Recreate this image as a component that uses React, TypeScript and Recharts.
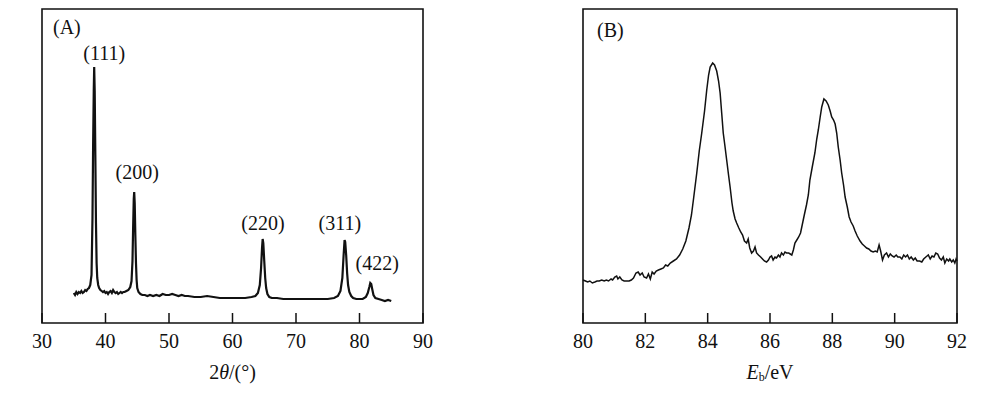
import React from 'react';
import { LineChart, Line, XAxis, YAxis, ReferenceArea, ReferenceDot, Label } from 'recharts';

// (A) XRD pattern
const xrdTwoTheta = [
  35.0, 35.2, 35.4, 35.6, 35.8, 36.0, 36.2, 36.4, 36.6, 36.8,
  37.0, 37.2, 37.4, 37.6, 37.8, 37.95, 38.05, 38.15, 38.22, 38.3,
  38.4, 38.5, 38.6, 38.7, 38.85, 39.0, 39.2, 39.4, 39.6, 39.8,
  40.0, 40.2, 40.4, 40.6, 40.8, 41.0, 41.2, 41.4, 41.6, 41.8,
  42.0, 42.2, 42.4, 42.6, 42.8, 43.0, 43.3, 43.6, 43.9, 44.1,
  44.25, 44.35, 44.45, 44.52, 44.6, 44.7, 44.8, 44.9, 45.0, 45.2,
  45.5, 45.8, 46.2, 46.6, 47.0, 47.5, 48.0, 48.5, 49.0, 49.5,
  50.0, 50.5, 51.0, 51.5, 52.0, 52.5, 53.0, 54.0, 55.0, 56.0,
  57.0, 58.0, 59.0, 60.0, 61.0, 62.0, 63.0, 63.6, 64.0, 64.3,
  64.5, 64.65, 64.75, 64.85, 65.0, 65.15, 65.3, 65.5, 65.8, 66.2,
  67.0, 68.0, 69.0, 70.0, 71.0, 72.0, 73.0, 74.0, 75.0, 76.0,
  76.6, 77.0, 77.3, 77.5, 77.65, 77.75, 77.9, 78.05, 78.2, 78.4,
  78.7, 79.0, 79.5, 80.0, 80.5, 81.0, 81.3, 81.55, 81.7, 81.85,
  82.0, 82.2, 82.5, 83.0, 83.5, 84.0, 84.5, 85.0,
];
const xrdIntensity = [
  30, 28, 31, 29, 31, 30, 32, 30, 31, 33,
  32, 34, 35, 38, 48, 105, 178, 232, 256, 232,
  168, 100, 60, 45, 38, 35, 33, 32, 31, 32,
  30, 31, 29, 31, 32, 30, 33, 31, 30, 31,
  29, 30, 31, 30, 31, 31, 32, 33, 36, 42,
  62, 95, 124, 131, 120, 88, 60, 43, 35, 31,
  29, 28, 28, 27, 28, 27, 28, 27, 29, 28,
  28, 29, 28, 27, 28, 27, 27, 26, 26, 27,
  26, 25, 25, 25, 25, 25, 26, 27, 30, 38,
  55, 75, 84, 80, 62, 45, 35, 29, 26, 25,
  25, 24, 24, 24, 24, 24, 24, 24, 24, 25,
  27, 32, 45, 68, 83, 81, 68, 50, 38, 31,
  27, 25, 24, 24, 24, 26, 30, 36, 40, 39,
  34, 28, 25, 24, 23, 22, 23, 22,
];
const xrdTicks = [30, 40, 50, 60, 70, 80, 90];
const xrdPeakNames = ['(111)', '(200)', '(220)', '(311)', '(422)'];
const xrdPeakLabelX = [39.8, 45.0, 64.8, 76.9, 82.8];
const xrdPeakLabelY = [270, 151, 100, 100, 60];

// (B) XPS spectrum
const xpsEnergy = [
  80.00, 80.08, 80.15, 80.22, 80.30, 80.38, 80.45, 80.52, 80.60, 80.68,
  80.75, 80.82, 80.90, 80.95, 81.02, 81.08, 81.12, 81.18, 81.25, 81.32,
  81.40, 81.48, 81.55, 81.62, 81.70, 81.77, 81.83, 81.90, 81.96, 82.04,
  82.10, 82.16, 82.22, 82.28, 82.35, 82.42, 82.50, 82.58, 82.65, 82.72,
  82.80, 82.90, 83.00, 83.10, 83.20, 83.30, 83.40, 83.48, 83.55, 83.65,
  83.73, 83.81, 83.90, 83.97, 84.03, 84.08, 84.16, 84.22, 84.29, 84.35,
  84.40, 84.45, 84.50, 84.55, 84.61, 84.67, 84.72, 84.78, 84.82, 84.88,
  84.93, 85.00, 85.06, 85.12, 85.18, 85.25, 85.30, 85.35, 85.41, 85.47,
  85.52, 85.57, 85.63, 85.70, 85.76, 85.82, 85.89, 85.95, 86.00, 86.05,
  86.10, 86.16, 86.21, 86.27, 86.32, 86.37, 86.43, 86.48, 86.53, 86.60,
  86.65, 86.70, 86.75, 86.80, 86.86, 86.92, 86.98, 87.04, 87.10, 87.17,
  87.23, 87.28, 87.35, 87.44, 87.50, 87.55, 87.61, 87.66, 87.73, 87.80,
  87.87, 87.93, 87.98, 88.04, 88.09, 88.14, 88.19, 88.25, 88.30, 88.36,
  88.41, 88.48, 88.54, 88.60, 88.67, 88.73, 88.80, 88.89, 88.96, 89.03,
  89.10, 89.17, 89.24, 89.31, 89.38, 89.44, 89.50, 89.55, 89.61, 89.67,
  89.74, 89.80, 89.86, 89.92, 89.98, 90.05, 90.10, 90.17, 90.23, 90.29,
  90.35, 90.41, 90.47, 90.53, 90.60, 90.66, 90.72, 90.80, 90.87, 90.93,
  91.00, 91.08, 91.14, 91.20, 91.26, 91.32, 91.38, 91.44, 91.50, 91.56,
  91.61, 91.67, 91.73, 91.77, 91.83, 91.88, 91.93, 91.97, 92.00,
];
const xpsIntensity = [
  43, 42, 41, 42, 40, 41, 42, 42, 43, 42,
  43, 42, 44, 43, 46, 47, 44, 46, 43, 42,
  42, 42, 43, 45, 50, 51, 48, 50, 46, 45,
  49, 44, 51, 49, 52, 53, 54, 55, 58, 57,
  60, 62, 64, 68, 74, 82, 95, 108, 125, 150,
  172, 190, 212, 233, 248, 256, 260, 258, 252, 242,
  230, 210, 190, 178, 163, 148, 136, 120, 112, 104,
  100, 95, 91, 88, 82, 80, 84, 75, 70, 72,
  76, 70, 68, 66, 64, 62, 61, 63, 66, 67,
  63, 66, 65, 68, 66, 70, 68, 71, 70, 70,
  69, 68, 73, 80, 83, 86, 90, 99, 108, 118,
  128, 143, 155, 170, 184, 193, 206, 216, 224, 222,
  218, 212, 206, 203, 199, 190, 176, 163, 150, 138,
  126, 116, 106, 101, 97, 92, 87, 82, 79, 77,
  75, 74, 72, 71, 72, 71, 78, 72, 63, 68,
  70, 66, 69, 67, 66, 68, 66, 66, 64, 68,
  66, 68, 64, 66, 63, 65, 62, 62, 61, 64,
  66, 68, 64, 67, 66, 70, 69, 65, 63, 66,
  60, 64, 62, 64, 61, 63, 60, 64, 62,
];
const xpsTicks = [80, 82, 84, 86, 88, 90, 92];

const xrdData = xrdTwoTheta.map((x, i) => ({ x, y: xrdIntensity[i] }));
const xpsData = xpsEnergy.map((x, i) => ({ x, y: xpsIntensity[i] }));

const FONT = "'Liberation Serif', 'Times New Roman', serif";
const INK = '#111';

const xrdTitle = (props: any) => {
  const { x, y, width } = props.viewBox;
  return (
    <text x={x + width / 2} y={y + 56} textAnchor="middle" fontSize={20} fill={INK} fontFamily={FONT}>
      2<tspan fontStyle="italic">θ</tspan>/(°)
    </text>
  );
};

const xpsTitle = (props: any) => {
  const { x, y, width } = props.viewBox;
  return (
    <text x={x + width / 2} y={y + 56} textAnchor="middle" fontSize={20} fill={INK} fontFamily={FONT}>
      <tspan fontStyle="italic">E</tspan>
      <tspan fontSize={12} dy={2}>b</tspan>
      <tspan dy={-2}>/eV</tspan>
    </text>
  );
};

const tickStyle = { fill: INK, fontSize: 20, fontFamily: FONT };

export default function App() {
  return (
    <div style={{ position: 'absolute', left: 0, top: 0, width: 1000, height: 395, fontFamily: FONT, background: '#fff' }}>
      <div style={{ position: 'absolute', left: 0, top: 0 }}>
        <LineChart width={500} height={395} data={xrdData} margin={{ top: 9, left: 42, right: 77, bottom: 0 }}>
          <XAxis
            dataKey="x"
            type="number"
            domain={[30, 90]}
            ticks={xrdTicks}
            height={72}
            axisLine={false}
            tickSize={-10}
            tickMargin={21}
            tickLine={{ stroke: INK, strokeWidth: 1.5 }}
            tick={tickStyle}
          >
            <Label content={xrdTitle} />
          </XAxis>
          <YAxis hide type="number" domain={[0, 314]} />
          <ReferenceArea x1={30} x2={90} y1={0} y2={314} fill="none" stroke={INK} strokeWidth={1.6} fillOpacity={0}>
            <Label value="(A)" position="insideTopLeft" offset={11} fontSize={20} fill={INK} fontFamily={FONT} />
          </ReferenceArea>
          <Line type="linear" dataKey="y" stroke={INK} strokeWidth={2.2} dot={false} isAnimationActive={false} />
          {xrdPeakNames.map((name, i) => (
            <ReferenceDot key={name} x={xrdPeakLabelX[i]} y={xrdPeakLabelY[i]} r={0} fill="none" stroke="none">
              <Label value={name} position="center" fontSize={20} fill={INK} fontFamily={FONT} />
            </ReferenceDot>
          ))}
        </LineChart>
      </div>
      <div style={{ position: 'absolute', left: 500, top: 0 }}>
        <LineChart width={500} height={395} data={xpsData} margin={{ top: 9, left: 83, right: 43, bottom: 0 }}>
          <XAxis
            dataKey="x"
            type="number"
            domain={[80, 92]}
            ticks={xpsTicks}
            height={72}
            axisLine={false}
            tickSize={-10}
            tickMargin={21}
            tickLine={{ stroke: INK, strokeWidth: 1.5 }}
            tick={tickStyle}
          >
            <Label content={xpsTitle} />
          </XAxis>
          <YAxis hide type="number" domain={[0, 314]} />
          <ReferenceArea x1={80} x2={92} y1={0} y2={314} fill="none" stroke={INK} strokeWidth={1.6} fillOpacity={0}>
            <Label value="(B)" position="insideTopLeft" offset={14} fontSize={20} fill={INK} fontFamily={FONT} />
          </ReferenceArea>
          <Line type="linear" dataKey="y" stroke={INK} strokeWidth={1.5} dot={false} isAnimationActive={false} />
        </LineChart>
      </div>
    </div>
  );
}
